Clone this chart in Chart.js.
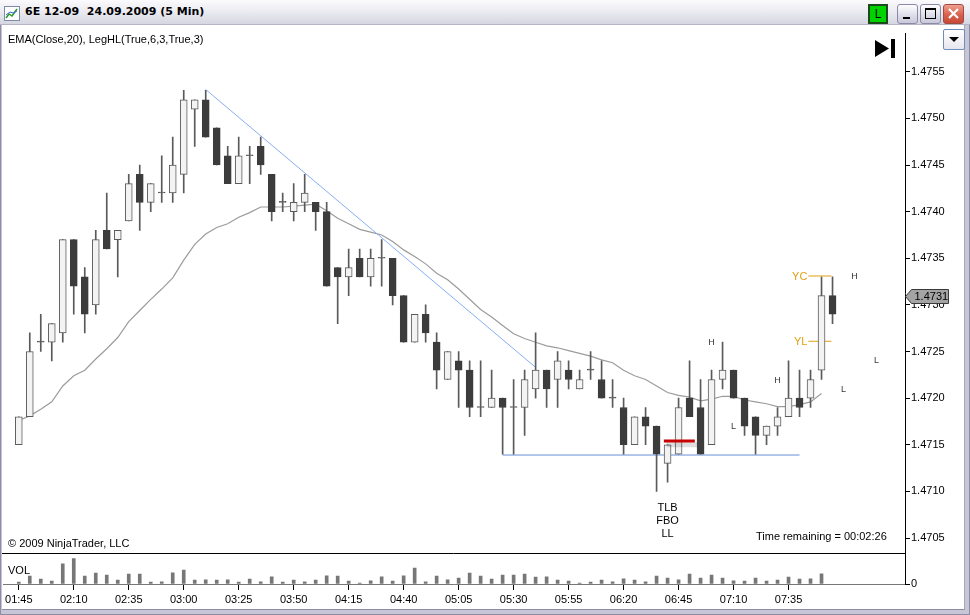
<!DOCTYPE html>
<html>
<head>
<meta charset="utf-8">
<title>6E 12-09 5 Min</title>
<script src="https://cdn.jsdelivr.net/npm/chart.js@4.4.0/dist/chart.umd.min.js"></script>
<style>
  body { margin: 0; width: 970px; height: 615px; overflow: hidden; background: #fff;
         font-family: "Liberation Sans", Arial, sans-serif; }
  #win { position: absolute; left: 0; top: 0; width: 970px; height: 615px; background: #c6c6d6;
         box-shadow: inset 0 0 0 1px #8c8ca6; }
  #title { position: absolute; left: 0; top: 0; width: 970px; height: 25px;
           background: linear-gradient(#fbfbfd, #ececf2 45%, #d6d6e2); border-bottom: 1px solid #b4b4c4; box-sizing: border-box; }
  #ttext { position: absolute; left: 25px; top: 5px; font: bold 11px "DejaVu Sans", sans-serif; white-space: pre; color: #000; }
  #ticon { position: absolute; left: 4px; top: 6px; }
  #lbox { position: absolute; left: 868px; top: 4px; width: 16px; height: 16px; background: #00d400;
          border: 2px solid #1c4a1c; font: 12px "Liberation Sans"; text-align: center; line-height: 16px; color: #000; }
  .wbtn { position: absolute; top: 4px; width: 21px; height: 20px; box-sizing: border-box; border-radius: 3px;
          border: 1px solid #8a8aa8; background: linear-gradient(#fefeff, #dcdce8 60%, #c8c8d8); }
  #bclose { background: linear-gradient(#f0a090, #d8604c 55%, #c84a38); border-color: #a04a44; }
  #client { position: absolute; left: 2px; top: 25px; width: 962px; height: 584px; background: #fff;
            border-right: 1px solid #a8a8bc; border-bottom: 1px solid #8c8ca6; }
  canvas { position: absolute; left: 2px; top: 25px; }
  .txt { position: absolute; font-size: 11px; color: #000; white-space: pre; line-height: 13px; }
  #drop { position: absolute; left: 943px; top: 29px; width: 22px; height: 21px; box-sizing: border-box;
          border: 1px solid #6e8cbc; border-radius: 2px; background: linear-gradient(#ffffff, #e6e6ee); }
</style>
</head>
<body>
<div id="win"></div>
<div id="title">
  <svg id="ticon" width="16" height="15">
    <rect x="0.5" y="0.5" width="15" height="14" fill="#fff" stroke="#7c8ca8"/>
    <polyline points="2,12 5,8 8,10 13,3" fill="none" stroke="#2a9a2a" stroke-width="1.5"/>
    <polyline points="2,9 6,6 9,7 13,5" fill="none" stroke="#3a6ad0" stroke-width="1"/>
  </svg>
  <span id="ttext">6E 12-09  24.09.2009 (5 Min)</span>
  <div id="lbox">L</div>
  <div class="wbtn" style="left:897px"><svg width="19" height="18"><rect x="5" y="12" width="7" height="2" fill="#000"/></svg></div>
  <div class="wbtn" style="left:920px"><svg width="19" height="18"><rect x="4.5" y="3.5" width="10" height="10" fill="none" stroke="#000"/><rect x="4" y="3" width="11" height="2" fill="#000"/></svg></div>
  <div class="wbtn" id="bclose" style="left:943px"><svg width="19" height="18"><path d="M5 4 L14 13 M14 4 L5 13" stroke="#fff" stroke-width="2.2"/></svg></div>
</div>
<div id="client"></div>
<canvas id="chart" width="962" height="584"></canvas>
<div class="txt" style="left:8px;top:33px">EMA(Close,20), LegHL(True,6,3,True,3)</div>
<div class="txt" style="left:8px;top:537px">© 2009 NinjaTrader, LLC</div>
<div class="txt" style="left:756px;top:530px">Time remaining = 00:02:26</div>
<div class="txt" style="left:8px;top:564px">VOL</div>
<svg style="position:absolute;left:874px;top:39px" width="24" height="20">
  <polygon points="1,1 15,9.5 1,18" fill="#000"/>
  <rect x="17" y="0" width="4" height="19" fill="#000"/>
</svg>
<div id="drop"><svg width="20" height="19"><polygon points="5,7 15,7 10,12" fill="#000"/></svg></div>
<script>
// 5-minute bars, 24.09.2009, 01:45 .. 07:55
const tickLabels = ['01:45', '02:10', '02:35', '03:00', '03:25', '03:50', '04:15', '04:40',
                    '05:05', '05:30', '05:55', '06:20', '06:45', '07:10', '07:35'];

const opens = [1.4715, 1.4718, 1.4726, 1.4726, 1.4727, 1.4737, 1.4733, 1.4730, 1.4738, 1.4737,
               1.4739, 1.4744, 1.4741, 1.4742, 1.4742, 1.4744, 1.4751, 1.4752, 1.4749, 1.4746,
               1.4743, 1.4746, 1.4747, 1.4744, 1.4741, 1.4740, 1.4741, 1.4741, 1.4740, 1.4734,
               1.4733, 1.4735, 1.4733, 1.4735, 1.4735, 1.4731, 1.4726, 1.4729, 1.4726, 1.4722,
               1.4724, 1.4723, 1.4719, 1.4719, 1.4720, 1.4719, 1.4719, 1.4721, 1.4723, 1.4722,
               1.4723, 1.4721, 1.4723, 1.4722, 1.4720, 1.4719, 1.4715, 1.4718, 1.4717, 1.4713,
               1.4714, 1.4720, 1.4719, 1.4715, 1.4722, 1.4723, 1.4720, 1.4718, 1.4716, 1.4717,
               1.4718, 1.4720, 1.4720, 1.4723, 1.4731];
const highs = [1.4718, 1.4727, 1.4729, 1.4728, 1.4737, 1.4737, 1.4734, 1.4738, 1.4742, 1.4738,
               1.4744, 1.4745, 1.4743, 1.4746, 1.4748, 1.4753, 1.4752, 1.4753, 1.4749, 1.4747,
               1.4748, 1.4747, 1.4748, 1.4744, 1.4742, 1.4743, 1.4744, 1.4741, 1.4741, 1.4734,
               1.4736, 1.4736, 1.4736, 1.4737, 1.4735, 1.4731, 1.4729, 1.4730, 1.4727, 1.4725,
               1.4725, 1.4724, 1.4724, 1.4723, 1.4720, 1.4722, 1.4723, 1.4727, 1.4723, 1.4725,
               1.4724, 1.4723, 1.4725, 1.4724, 1.4722, 1.4720, 1.4718, 1.4719, 1.4717, 1.4715,
               1.4720, 1.4724, 1.4722, 1.4723, 1.4726, 1.4723, 1.4720, 1.4718, 1.4717, 1.4719,
               1.4724, 1.4723, 1.4723, 1.4733, 1.4733];
const lows = [1.4715, 1.4718, 1.4725, 1.4724, 1.4726, 1.4729, 1.4727, 1.4729, 1.4736, 1.4733,
              1.4739, 1.4738, 1.4740, 1.4741, 1.4741, 1.4742, 1.4747, 1.4748, 1.4745, 1.4743,
              1.4743, 1.4743, 1.4744, 1.4739, 1.4740, 1.4739, 1.4740, 1.4738, 1.4732, 1.4728,
              1.4731, 1.4733, 1.4732, 1.4732, 1.4730, 1.4726, 1.4726, 1.4726, 1.4721, 1.4722,
              1.4719, 1.4718, 1.4718, 1.4719, 1.4714, 1.4714, 1.4716, 1.4720, 1.4719, 1.4719,
              1.4721, 1.4721, 1.4722, 1.4720, 1.4719, 1.4714, 1.4715, 1.4715, 1.4710, 1.4711,
              1.4714, 1.4718, 1.4714, 1.4715, 1.4721, 1.4720, 1.4716, 1.4714, 1.4715, 1.4716,
              1.4718, 1.4718, 1.4719, 1.4722, 1.4728];
const closes = [1.4718, 1.4725, 1.4726, 1.4728, 1.4737, 1.4732, 1.4729, 1.4737, 1.4736, 1.4738,
                1.4743, 1.4741, 1.4743, 1.4742, 1.4745, 1.4752, 1.4752, 1.4748, 1.4745, 1.4743,
                1.4746, 1.4746, 1.4745, 1.4740, 1.4741, 1.4741, 1.4742, 1.4740, 1.4732, 1.4733,
                1.4734, 1.4733, 1.4735, 1.4735, 1.4731, 1.4726, 1.4729, 1.4727, 1.4723, 1.4725,
                1.4723, 1.4719, 1.4719, 1.4720, 1.4719, 1.4719, 1.4722, 1.4723, 1.4721, 1.4724,
                1.4722, 1.4722, 1.4723, 1.4720, 1.4720, 1.4715, 1.4718, 1.4717, 1.4714, 1.4715,
                1.4719, 1.4718, 1.4714, 1.4722, 1.4723, 1.4720, 1.4717, 1.4716, 1.4717, 1.4718,
                1.4720, 1.4719, 1.4722, 1.4731, 1.4729];
const volumes = [92, 361, 224, 137, 905, 1140, 358, 497, 402, 181,
                 452, 449, 88, 94, 501, 628, 176, 183, 179, 186,
                 91, 227, 96, 318, 89, 182, 93, 178, 364, 359,
                 134, 47, 138, 322, 131, 366, 722, 94, 357, 184,
                 271, 494, 362, 226, 407, 403, 451, 316, 322, 178,
                 137, 44, 92, 181, 97, 228, 176, 93, 361, 268,
                 183, 447, 272, 404, 266, 139, 133, 271, 136, 178,
                 312, 224, 229, 458, null];
const ema20 = [1.47176, 1.47181, 1.47188, 1.47196, 1.47213, 1.47224, 1.47230, 1.47242, 1.47253, 1.47265,
               1.47282, 1.47294, 1.47306, 1.47317, 1.47329, 1.47348, 1.47365, 1.47376, 1.47383, 1.47387,
               1.47394, 1.47399, 1.47405, 1.47405, 1.47405, 1.47406, 1.47407, 1.47408, 1.47401, 1.47393,
               1.47387, 1.47381, 1.47378, 1.47375, 1.47368, 1.47359, 1.47352, 1.47344, 1.47334, 1.47327,
               1.47317, 1.47306, 1.47295, 1.47287, 1.47278, 1.47269, 1.47264, 1.47260, 1.47256, 1.47254,
               1.47251, 1.47248, 1.47245, 1.47241, 1.47238, 1.47230, 1.47224, 1.47220, 1.47213, 1.47206,
               1.47203, 1.47201, 1.47197, 1.47199, 1.47202, 1.47202, 1.47198, 1.47196, 1.47194, 1.47191,
               1.47191, 1.47193, 1.47196, 1.47205, null];
const priceTicks = [1.4705, 1.4710, 1.4715, 1.4720, 1.4725, 1.4730, 1.4735, 1.4740, 1.4745, 1.4750, 1.4755];

// drawings on the chart (bar index, price)
const trendLine = [{x: 17, y: 1.47531}, {x: 47, y: 1.47233}];
const supportLine = [{x: 44, y: 1.47139}, {x: 71, y: 1.47139}];
const signalLine = [{x: 58.66, y: 1.47154}, {x: 61.48, y: 1.47154}];
const ycLine = [{x: 71.8, y: 1.47331}, {x: 73.9, y: 1.47331}];
const ylLine = [{x: 71.8, y: 1.47261}, {x: 73.9, y: 1.47261}];
const legLabels = [
  {x: 63, y: 1.47260, t: 'H'}, {x: 69, y: 1.47219, t: 'H'}, {x: 76, y: 1.47330, t: 'H'},
  {x: 65, y: 1.47170, t: 'L'}, {x: 75, y: 1.47209, t: 'L'}, {x: 78, y: 1.47240, t: 'L'}
];
const signalText = ['TLB', 'FBO', 'LL'];
const signalAt = {x: 59, y: 1.47082};
const lastPrice = 1.4731;

const FONT = {family: '"Liberation Sans", Arial, sans-serif', size: 11};

const isDown = i => closes[i] < opens[i];
const isDoji = i => closes[i] === opens[i];

const drawings = {
  id: 'drawings',
  afterDatasetsDraw(chart) {
    const {ctx, scales: {x, y}} = chart;
    ctx.save();
    ctx.textAlign = 'center';
    ctx.textBaseline = 'middle';
    ctx.fillStyle = '#383838';
    ctx.font = '9px "Liberation Sans", Arial';
    legLabels.forEach(l => ctx.fillText(l.t, x.getPixelForValue(l.x), y.getPixelForValue(l.y)));

    ctx.fillStyle = '#000';
    ctx.font = '11px "Liberation Sans", Arial';
    signalText.forEach((t, k) => ctx.fillText(t, x.getPixelForValue(signalAt.x), y.getPixelForValue(signalAt.y) + k * 12.8));

    ctx.fillStyle = '#e0a010';
    ctx.textAlign = 'right';
    ctx.fillText('YC', x.getPixelForValue(ycLine[0].x) - 1, y.getPixelForValue(ycLine[0].y) + 1);
    ctx.fillText('YL', x.getPixelForValue(ylLine[0].x) - 1, y.getPixelForValue(ylLine[0].y) + 1);
    ctx.restore();
  },
  afterDraw(chart) {
    const {ctx, scales: {y}} = chart;
    ctx.save();
    // panel separator between price and volume
    const sy = Math.round(y.bottom) + 0.5;
    ctx.strokeStyle = '#000';
    ctx.lineWidth = 1;
    ctx.beginPath();
    ctx.moveTo(0, sy);
    ctx.lineTo(y.left, sy);
    ctx.stroke();
    // last price marker
    const py = Math.round(y.getPixelForValue(lastPrice)) + 0.5;
    const x0 = y.left + 0.5;
    ctx.beginPath();
    ctx.moveTo(x0, py);
    ctx.lineTo(x0 + 6, py - 7);
    ctx.lineTo(x0 + 43, py - 7);
    ctx.lineTo(x0 + 43, py + 7);
    ctx.lineTo(x0 + 6, py + 7);
    ctx.closePath();
    ctx.fillStyle = '#a4a4a4';
    ctx.fill();
    ctx.strokeStyle = '#3a3a3a';
    ctx.stroke();
    ctx.fillStyle = '#000';
    ctx.font = '11px "Liberation Sans", Arial';
    ctx.textAlign = 'left';
    ctx.textBaseline = 'middle';
    ctx.fillText(lastPrice.toFixed(4), x0 + 9, py);
    ctx.restore();
  }
};

const idx = opens.map((o, i) => i);

new Chart(document.getElementById('chart'), {
  type: 'bar',
  data: {
    datasets: [
      {
        type: 'line', data: signalLine, yAxisID: 'y', order: -2,
        borderColor: '#c80000', borderWidth: 3, pointRadius: 0
      },
      {
        type: 'line', data: signalLine.map(p => ({x: p.x + 0.25, y: p.y - 0.00004})), yAxisID: 'y', order: -1,
        borderColor: 'rgba(0,0,0,0.13)', borderWidth: 5, pointRadius: 0
      },
      {
        type: 'bar', label: 'body', yAxisID: 'y', order: 0,
        data: idx.map(i => ({x: i, y: [opens[i], closes[i]]})),
        backgroundColor: c => isDoji(c.dataIndex) ? '#5a5a5a' : (isDown(c.dataIndex) ? '#3c3c3c' : '#f3f3f3'),
        borderColor: c => isDown(c.dataIndex) ? '#3c3c3c' : '#5a5a5a',
        borderWidth: 1, borderSkipped: false, barThickness: 7, minBarLength: 1, grouped: false
      },
      {
        type: 'bar', label: 'wick', yAxisID: 'y', order: 1,
        data: idx.map(i => ({x: i, y: [lows[i], highs[i]]})),
        backgroundColor: '#5a5a5a', borderWidth: 0, barThickness: 1, grouped: false
      },
      {
        type: 'bar', label: 'VOL', yAxisID: 'v', order: 1,
        data: idx.map(i => ({x: i, y: volumes[i]})),
        backgroundColor: '#777777', borderWidth: 0, barThickness: 3, grouped: false
      },
      {
        type: 'line', data: ycLine, yAxisID: 'y', order: 0,
        borderColor: '#e0a010', borderWidth: 1, pointRadius: 0
      },
      {
        type: 'line', data: ylLine, yAxisID: 'y', order: 0,
        borderColor: '#e0a010', borderWidth: 1, pointRadius: 0
      },
      {
        type: 'line', data: trendLine, yAxisID: 'y', order: 2,
        borderColor: '#86aef0', borderWidth: 1, pointRadius: 0
      },
      {
        type: 'line', data: supportLine, yAxisID: 'y', order: 2,
        borderColor: '#6690d8', borderWidth: 1, pointRadius: 0
      },
      {
        type: 'line', label: 'EMA(Close,20)', yAxisID: 'y', order: 3,
        data: idx.map(i => ({x: i, y: ema20[i]})),
        borderColor: '#9c9c9c', borderWidth: 1.2, pointRadius: 0, spanGaps: false
      }
    ]
  },
  options: {
    responsive: false,
    animation: false,
    layout: {padding: {top: 8, left: 1, right: 0, bottom: 0}},
    plugins: {legend: {display: false}, tooltip: {enabled: false}},
    scales: {
      x: {
        type: 'linear', position: 'bottom', offset: false,
        min: -15.5 / 11, max: 886.5 / 11,
        afterBuildTicks: s => { s.ticks = tickLabels.map((t, k) => ({value: k * 5})); },
        afterFit: s => { s.height = 25; },
        ticks: {callback: v => tickLabels[v / 5], autoSkip: false, maxRotation: 0, color: '#000', font: FONT, padding: 3},
        grid: {drawOnChartArea: false, offset: false, tickLength: 6, color: '#000'},
        border: {color: '#777', width: 1}
      },
      y: {
        type: 'linear', position: 'right', stack: 'panes', stackWeight: 520,
        min: 1.4755 - 481.2 / 93240, max: 1.4755 + 38.8 / 93240,
        afterBuildTicks: s => { s.ticks = priceTicks.map(v => ({value: v})); },
        afterFit: s => { s.width = 59; },
        ticks: {callback: v => v.toFixed(4), autoSkip: false, color: '#000', font: FONT, padding: 1},
        grid: {drawOnChartArea: false, tickLength: 5, color: '#000'},
        border: {color: '#000', width: 1}
      },
      v: {
        type: 'linear', position: 'right', stack: 'panes', stackWeight: 31,
        min: 0, max: 1395,
        afterBuildTicks: s => { s.ticks = [{value: 0}]; },
        afterFit: s => { s.width = 59; },
        ticks: {callback: () => '0', color: '#000', font: FONT, padding: 1},
        grid: {drawOnChartArea: false, tickLength: 5, color: '#000'},
        border: {color: '#000', width: 1}
      }
    }
  },
  plugins: [drawings]
});
</script>
</body>
</html>
